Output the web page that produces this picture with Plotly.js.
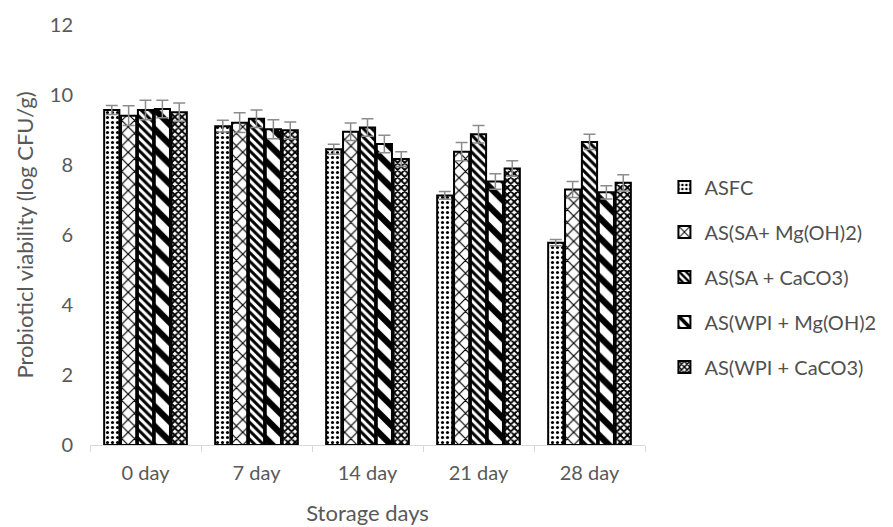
<!DOCTYPE html>
<html>
<head>
<meta charset="utf-8">
<script src="https://cdn.plot.ly/plotly-3.0.1.min.js"></script>
<style>html,body{margin:0;padding:0;background:#fff;}#chart{width:893px;height:527px;}</style>
</head>
<body>
<div id="chart"></div>
<script>
const categories = ["0 day", "7 day", "14 day", "21 day", "28 day"];
const seriesNames = ["ASFC", "AS(SA+ Mg(OH)2)", "AS(SA + CaCO3)", "AS(WPI + Mg(OH)2", "AS(WPI + CaCO3)"];
const asfc      = [9.57, 9.11, 8.45, 7.13, 5.78];
const saMg      = [9.41, 9.21, 8.95, 8.38, 7.30];
const saCa      = [9.57, 9.32, 9.07, 8.88, 8.66];
const wpiMg     = [9.60, 9.02, 8.60, 7.53, 7.22];
const wpiCa     = [9.51, 8.99, 8.17, 7.90, 7.49];
const asfcErr   = [0.13, 0.17, 0.14, 0.11, 0.09];
const saMgErr   = [0.28, 0.28, 0.25, 0.26, 0.23];
const saCaErr   = [0.28, 0.25, 0.25, 0.25, 0.22];
const wpiMgErr  = [0.25, 0.27, 0.25, 0.22, 0.19];
const wpiCaErr  = [0.26, 0.24, 0.21, 0.22, 0.23];

const values = [asfc, saMg, saCa, wpiMg, wpiCa];
const errs = [asfcErr, saMgErr, saCaErr, wpiMgErr, wpiCaErr];
const patterns = [
  {shape: ".", size: 5, solidity: 0.3},
  {shape: "x", size: 9, solidity: 0.25},
  {shape: "\\", size: 6, solidity: 0.5},
  {shape: "\\", size: 14, solidity: 0.45},
  {shape: "x", size: 5, solidity: 0.6}
];

const traces = values.map((v, i) => ({
  type: "bar",
  name: seriesNames[i],
  x: categories,
  y: v,
  legendgroup: "g" + i,
  marker: {
    color: "#ffffff",
    line: {color: "#000000", width: 2},
    pattern: Object.assign({fgcolor: "#000000", bgcolor: "#ffffff", fillmode: "overlay", fgopacity: 1}, patterns[i])
  },
  error_y: {type: "data", array: errs[i], visible: true, color: "#8c8c8c", thickness: 1.5, width: 6}
}));

const layout = {
  width: 893, height: 527,
  margin: {l: 90, r: 241, t: 25, b: 82},
  paper_bgcolor: "#ffffff", plot_bgcolor: "#ffffff",
  font: {family: "Lato, 'Open Sans', sans-serif", color: "#595959", size: 20},
  barmode: "group",
  bargap: 0.24,
  bargroupgap: 0.1,
  showlegend: true,
  legend: {x: 1.035, xanchor: "left", y: 0.40, yanchor: "middle", font: {size: 20, color: "#505050"}, tracegroupgap: 16, bgcolor: "rgba(0,0,0,0)"},
  xaxis: {
    type: "category",
    showline: true, linecolor: "#d9d9d9", linewidth: 1,
    ticks: "outside", tickson: "boundaries", ticklen: 6, tickcolor: "#d9d9d9",
    ticklabelstandoff: 10,
    tickfont: {size: 20, color: "#595959"},
    title: {text: "Storage days", font: {size: 22, color: "#595959"}, standoff: 22}
  },
  yaxis: {
    range: [0, 12], dtick: 2, showgrid: false, zeroline: false, showline: false,
    ticks: "", ticklabelstandoff: 16, tickfont: {size: 20, color: "#595959"},
    title: {text: "Probioticl viability (log CFU/g)", font: {size: 22, color: "#595959"}, standoff: 10}
  }
};

Plotly.newPlot("chart", traces, layout, {displayModeBar: false, staticPlot: true});
</script>
</body>
</html>
